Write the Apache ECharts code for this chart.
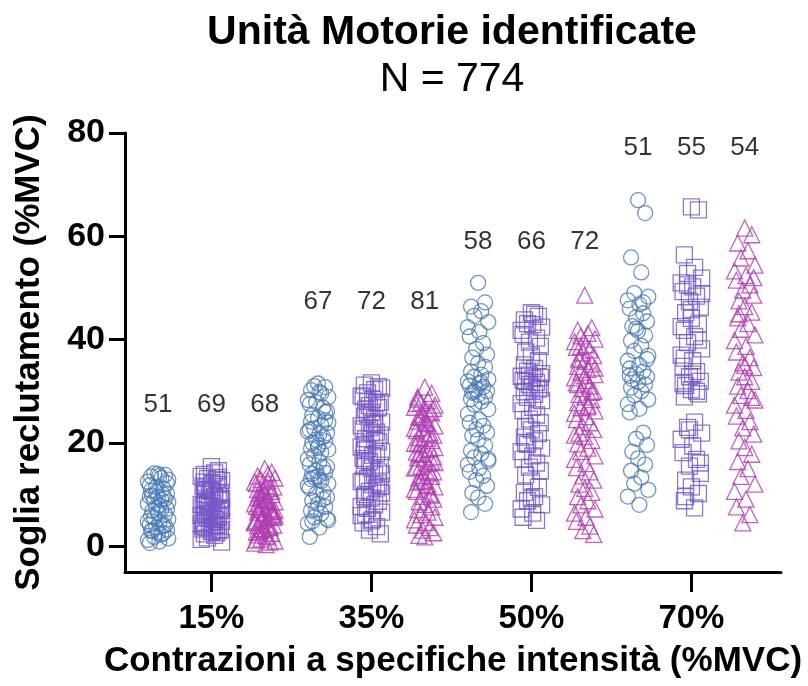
<!DOCTYPE html>
<html>
<head>
<meta charset="utf-8">
<script src="https://cdn.jsdelivr.net/npm/echarts@6/dist/echarts.min.js"></script>
<style>
  html, body { margin: 0; padding: 0; background: #fff; }
  #main { width: 808px; height: 686px; }
</style>
</head>
<body>
<div id="main"></div>
<script>
// gruppi (intensità di contrazione)
var groupLabels = ['15%', '35%', '50%', '70%'];
// numero di unità per colonna (cerchi, quadrati, triangoli)
var counts = [[51, 69, 68], [67, 72, 81], [58, 66, 72], [51, 55, 54]];
// altezza (in %MVC) delle etichette dei conteggi
var countLabelY = [27.3, 47.3, 58.9, 77.1];

// soglie di reclutamento
var c15 = [14.0, 13.8, 13.5, 13.2, 14.1, 12.9, 12.5, 13.6, 11.8, 11.2,
  10.5, 10.2, 9.8, 9.5, 9.2, 10.8, 9.0, 8.8, 8.5, 8.2,
  7.9, 9.6, 10.0, 7.5, 7.2, 6.8, 6.5, 6.2, 5.8, 7.0,
  5.5, 5.2, 4.8, 4.5, 4.2, 3.9, 3.6, 3.2, 2.9, 2.6,
  4.0, 3.0, 2.2, 1.8, 1.5, 1.2, 0.9, 0.6, 2.5, 11.5,
  12.2];
var s15 = [15.4, 14.6, 13.9, 14.2, 13.1, 12.7, 13.5, 12.2, 11.6, 12.9,
  11.0, 10.4, 11.3, 10.8, 9.9, 10.1, 9.5, 8.7, 9.2, 8.1,
  8.4, 7.8, 7.2, 7.6, 6.9, 6.3, 6.6, 5.7, 6.0, 5.2,
  5.5, 4.8, 4.3, 4.6, 3.9, 4.1, 3.5, 3.2, 3.7, 2.8,
  3.0, 2.4, 2.1, 1.6, 0.8, 1.3, 2.9, 4.4, 5.1, 6.2,
  7.0, 8.9, 10.6, 11.9, 12.4, 9.6, 8.3, 7.4, 5.9, 4.0,
  3.3, 2.6, 6.8, 9.0, 10.9, 12.0, 13.3, 7.9, 5.4];
var t15 = [15.0, 14.3, 13.6, 14.0, 12.9, 13.2, 12.4, 11.7, 12.1, 11.2,
  10.8, 11.5, 10.3, 9.9, 10.6, 9.4, 9.0, 9.7, 8.6, 8.2,
  8.9, 7.7, 7.3, 8.0, 6.8, 7.1, 6.4, 6.0, 6.6, 5.5,
  5.1, 5.8, 4.7, 4.3, 4.9, 3.8, 3.4, 4.1, 2.9, 3.1,
  2.5, 2.2, 1.8, 1.4, 1.0, 0.6, 0.3, 2.7, 3.6, 5.3,
  6.2, 7.5, 8.8, 10.0, 11.0, 12.6, 9.2, 7.0, 4.5, 2.0,
  1.2, 0.8, 3.3, 5.6, 8.4, 10.5, 6.7, 4.0];

var c35 = [31.5, 30.8, 30.2, 29.6, 31.0, 28.9, 28.3, 29.8, 27.5, 26.8,
  27.9, 26.1, 25.4, 24.8, 25.9, 24.1, 23.4, 22.8, 23.9, 22.2,
  21.7, 22.5, 21.1, 20.6, 21.9, 20.0, 19.5, 20.3, 18.9, 18.2,
  17.6, 18.7, 16.9, 16.3, 15.8, 15.1, 14.6, 15.4, 14.0, 13.5,
  14.2, 13.0, 12.6, 13.3, 12.1, 11.7, 12.8, 11.2, 10.6, 10.1,
  9.5, 8.8, 8.2, 7.6, 6.9, 6.3, 5.6, 5.0, 4.4, 3.6,
  1.8, 9.1, 7.1, 5.3, 4.8, 19.1, 24.4];
var s35 = [31.6, 30.9, 31.2, 30.3, 29.7, 30.6, 29.1, 28.4, 28.9, 27.8,
  27.2, 27.9, 26.5, 25.9, 26.8, 25.2, 24.6, 25.5, 24.0, 23.3,
  23.8, 22.7, 22.1, 22.9, 21.5, 20.8, 21.9, 20.2, 19.6, 20.5,
  18.9, 18.3, 19.2, 17.6, 17.0, 17.9, 16.4, 15.7, 16.6, 15.1,
  14.4, 15.4, 13.8, 13.1, 14.0, 12.5, 11.9, 12.8, 11.3, 10.6,
  11.6, 10.0, 9.3, 8.7, 9.6, 8.0, 7.3, 6.6, 5.9, 5.2,
  4.5, 3.8, 3.1, 2.4, 6.2, 4.9, 12.2, 18.6, 23.6, 28.0,
  10.3, 7.7];
var t35 = [30.8, 29.6, 28.9, 28.2, 27.8, 27.3, 26.9, 26.4, 27.6, 26.0,
  25.5, 26.7, 25.1, 24.6, 25.8, 24.2, 23.7, 24.9, 23.3, 22.8,
  23.9, 22.4, 21.9, 22.9, 21.5, 21.0, 21.8, 20.5, 20.0, 20.9,
  19.6, 19.1, 19.9, 18.7, 18.2, 18.9, 17.8, 17.3, 17.9, 16.9,
  16.4, 17.1, 16.0, 15.5, 16.2, 15.1, 14.6, 15.3, 14.2, 13.7,
  14.4, 13.3, 12.8, 13.5, 12.4, 11.9, 12.6, 11.5, 11.0, 11.7,
  10.6, 10.1, 9.6, 9.1, 8.6, 8.1, 7.6, 7.1, 6.6, 6.1,
  5.6, 5.1, 4.6, 4.1, 3.6, 3.1, 2.6, 2.1, 1.8, 9.9,
  28.5];

var c50 = [51.0, 47.2, 46.4, 45.5, 44.6, 43.4, 42.4, 41.5, 40.6, 39.3,
  38.2, 37.1, 36.5, 35.4, 34.7, 33.8, 33.2, 32.8, 32.3, 31.9,
  31.5, 31.1, 30.8, 30.4, 30.0, 29.7, 29.3, 28.9, 28.5, 28.0,
  27.4, 26.5, 25.6, 24.5, 23.9, 23.3, 22.6, 22.0, 21.4, 20.6,
  19.5, 18.5, 17.9, 17.2, 16.5, 15.8, 15.1, 14.4, 13.6, 12.8,
  11.7, 10.3, 9.4, 8.2, 6.6, 31.7, 29.9, 16.9];
var s50 = [45.2, 44.5, 43.8, 44.9, 43.1, 42.4, 41.8, 42.9, 41.0, 40.3,
  39.5, 38.7, 37.6, 36.8, 35.9, 35.1, 34.4, 33.9, 33.4, 32.9,
  32.5, 32.1, 31.7, 31.3, 32.7, 31.9, 30.8, 30.4, 29.9, 29.4,
  28.8, 28.2, 27.6, 26.9, 26.2, 25.4, 24.6, 23.9, 23.2, 22.5,
  21.8, 21.1, 20.4, 19.7, 19.0, 18.3, 17.5, 16.8, 16.1, 15.3,
  14.6, 13.8, 12.6, 11.4, 10.4, 9.6, 8.8, 8.0, 7.2, 6.4,
  5.6, 5.0, 33.1, 30.6, 20.0, 9.2];
var t50 = [48.6, 42.3, 41.8, 41.2, 40.7, 40.1, 39.6, 39.0, 38.5, 38.0,
  37.4, 36.9, 36.4, 35.8, 35.3, 34.8, 34.2, 33.7, 33.2, 32.6,
  32.1, 31.6, 31.0, 30.5, 30.0, 29.4, 28.9, 28.4, 27.8, 27.3,
  26.8, 26.2, 25.7, 25.1, 24.5, 23.9, 23.2, 22.6, 21.9, 21.2,
  20.5, 19.8, 19.0, 18.3, 17.5, 16.8, 16.0, 15.2, 14.4, 13.6,
  12.8, 12.0, 11.2, 10.4, 9.6, 8.8, 8.0, 7.2, 6.4, 5.6,
  4.8, 3.9, 3.0, 2.3, 36.1, 33.0, 29.8, 31.3, 27.0, 38.7,
  34.5, 21.5];

var c70 = [67.0, 64.5, 55.9, 53.0, 49.0, 48.3, 47.6, 46.8, 46.0, 45.1,
  44.3, 43.5, 42.6, 41.7, 40.8, 39.8, 38.8, 37.8, 36.9, 35.9,
  35.1, 34.4, 33.8, 33.3, 32.8, 32.3, 31.8, 31.3, 30.7, 30.0,
  29.2, 28.4, 27.5, 26.6, 25.9, 22.0, 20.8, 19.6, 18.3, 17.0,
  15.8, 14.6, 13.3, 12.1, 10.9, 9.6, 8.0, 33.0, 47.2, 42.1,
  36.2];
var s70 = [65.7, 65.1, 56.4, 54.0, 52.8, 51.9, 51.0, 50.2, 49.3, 48.4,
  47.4, 46.3, 45.2, 44.1, 43.0, 41.8, 40.6, 39.4, 38.2, 37.0,
  35.9, 34.8, 33.8, 32.8, 31.9, 31.1, 30.3, 29.5, 28.9, 24.0,
  23.0, 21.9, 20.7, 19.4, 18.1, 16.8, 15.5, 14.1, 12.8, 11.5,
  10.2, 8.8, 7.4, 50.6, 48.9, 42.5, 33.3, 31.5, 30.0, 22.5,
  16.1, 9.6, 45.8, 39.9, 36.4];
var t70 = [61.6, 60.3, 58.7, 57.2, 55.8, 54.4, 53.3, 52.4, 51.5, 50.6,
  49.6, 48.6, 47.5, 46.4, 45.3, 44.2, 43.1, 42.0, 40.9, 39.8,
  38.7, 37.6, 36.5, 35.5, 34.6, 33.7, 32.8, 31.9, 31.0, 30.1,
  29.2, 28.3, 27.3, 26.3, 25.2, 24.1, 22.9, 21.7, 20.4, 19.1,
  17.8, 16.4, 15.0, 13.5, 12.0, 10.6, 9.1, 7.6, 6.1, 4.5,
  52.0, 45.0, 35.0, 28.8];

var circles = [c15, c35, c50, c70];
var squares = [s15, s35, s50, s70];
var triangles = [t15, t35, t50, t70];

// spostamento orizzontale dei punti dentro la colonna
var jitter = [0, 0.55, -0.55, 0.25, -0.3, 0.8, -0.8, 0.1, -0.65, 0.4, -0.15, 0.7, -0.45];

function column_points(list, shift) {
    var out = [];
    for (var g = 0; g < list.length; g++) {
        var vals = list[g];
        var x0 = g * 3 + shift;
        for (var i = 0; i < vals.length; i++) {
            out.push([x0 + jitter[i % jitter.length] * 0.24, vals[i]]);
        }
    }
    return out;
}

var countPoints = [];
for (var g = 0; g < counts.length; g++) {
    for (var s = 0; s < 3; s++) {
        countPoints.push([g * 3 + s, countLabelY[g], counts[g][s]]);
    }
}

var tickPos = [1, 4, 7, 10];
var font = '"Liberation Sans", Arial, Helvetica, sans-serif';

var myChart = echarts.init(document.getElementById('main'));
var option = {
    animation: false,
    backgroundColor: '#fff',
    graphic: [
        {type: 'text', x: 452, y: 12, style: {text: 'Unità Motorie identificate', font: 'bold 41px ' + font, fill: '#000', textAlign: 'center', textVerticalAlign: 'top'}},
        {type: 'text', x: 452, y: 59, style: {text: 'N = 774', font: '41px ' + font, fill: '#000', textAlign: 'center', textVerticalAlign: 'top'}}
    ],
    grid: {left: 125, right: 27, top: 133, bottom: 114},
    xAxis: {
        type: 'value',
        min: -0.62,
        max: 11.68,
        splitLine: {show: false},
        axisLine: {onZero: false, lineStyle: {color: '#000', width: 3}},
        axisTick: {show: true, customValues: tickPos, length: 20, lineStyle: {color: '#000', width: 3}},
        axisLabel: {
            customValues: tickPos,
            margin: 30,
            color: '#000',
            fontFamily: font,
            fontWeight: 'bold',
            fontSize: 33,
            formatter: function (v) { return groupLabels[Math.round((v - 1) / 3)]; }
        },
        name: 'Contrazioni a specifiche intensità (%MVC)',
        nameLocation: 'middle',
        nameGap: 72,
        nameTextStyle: {color: '#000', fontFamily: font, fontWeight: 'bold', fontSize: 35}
    },
    yAxis: {
        type: 'value',
        min: -5,
        max: 80,
        splitLine: {show: false},
        axisLine: {show: true, onZero: false, lineStyle: {color: '#000', width: 3}},
        axisTick: {show: true, customValues: [0, 20, 40, 60, 80], length: 16, lineStyle: {color: '#000', width: 3}},
        axisLabel: {
            customValues: [0, 20, 40, 60, 80],
            margin: 20,
            color: '#000',
            fontFamily: font,
            fontWeight: 'bold',
            fontSize: 34
        },
        name: 'Soglia reclutamento (%MVC)',
        nameLocation: 'middle',
        nameRotate: 90,
        nameGap: 78,
        nameTextStyle: {color: '#000', fontFamily: font, fontWeight: 'bold', fontSize: 35}
    },
    series: [
        {
            type: 'scatter', symbol: 'circle', symbolSize: 15,
            itemStyle: {color: 'rgba(0,0,0,0)', borderColor: '#4a7ab8', borderWidth: 1.3},
            data: column_points(circles, 0)
        },
        {
            type: 'scatter', symbol: 'rect', symbolSize: 16,
            itemStyle: {color: 'rgba(0,0,0,0)', borderColor: '#7556c4', borderWidth: 1.3},
            data: column_points(squares, 1)
        },
        {
            type: 'scatter', symbol: 'triangle', symbolSize: 16,
            itemStyle: {color: 'rgba(0,0,0,0)', borderColor: '#b03cb2', borderWidth: 1.3},
            data: column_points(triangles, 2)
        },
        {
            type: 'scatter', symbolSize: 0, silent: true,
            label: {
                show: true, position: 'inside', color: '#000',
                textBorderWidth: 0,
                fontFamily: font, fontSize: 26,
                formatter: function (p) { return p.value[2]; }
            },
            data: countPoints
        }
    ]
};
myChart.setOption(option);
</script>
</body>
</html>
